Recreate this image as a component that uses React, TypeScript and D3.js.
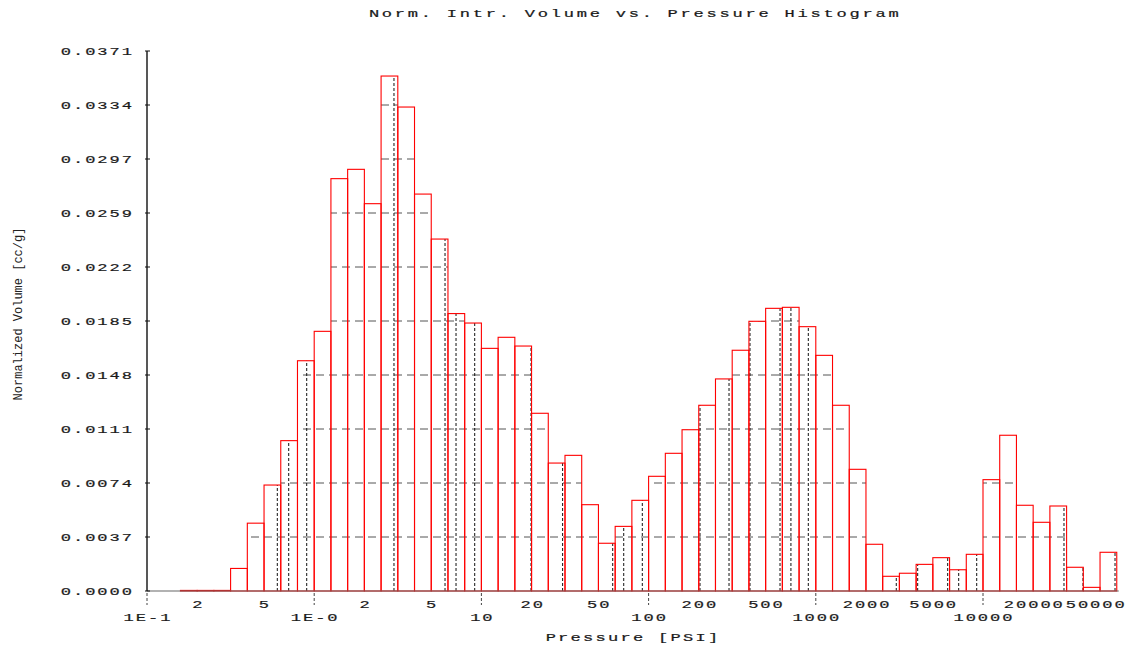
import React from 'react';
import * as d3 from 'd3';

// Histogram bins: lower edge pressure (PSI) of each 0.1-decade bin
const binLowPsi = [
  0.1585, 0.1995, 0.2512, 0.3162, 0.3981, 0.5012, 0.631, 0.7943, 1.0,
  1.259, 1.585, 1.995, 2.512, 3.162, 3.981, 5.012, 6.31, 7.943, 10.0,
  12.59, 15.85, 19.95, 25.12, 31.62, 39.81, 50.12, 63.1, 79.43, 100,
  125.9, 158.5, 199.5, 251.2, 316.2, 398.1, 501.2, 631.0, 794.3, 1000,
  1259, 1585, 1995, 2512, 3162, 3981, 5012, 6310, 7943, 10000,
  12589, 15849, 19953, 25119, 31623, 39811, 50119,
];
// Normalized intrusion volume per bin (cc/g)
const binVolume = [
  0.00004, 0.00004, 0.00004, 0.00155, 0.00466, 0.00728, 0.01033, 0.01582, 0.01784,
  0.02833, 0.02897, 0.02661, 0.03538, 0.03325, 0.02727, 0.02418, 0.01906, 0.01841, 0.01667,
  0.01743, 0.01683, 0.01221, 0.00879, 0.00932, 0.00593, 0.00328, 0.00444, 0.00623, 0.00788,
  0.00946, 0.01108, 0.01276, 0.01457, 0.01654, 0.01853, 0.01942, 0.01949, 0.01816, 0.01619,
  0.01276, 0.00836, 0.00321, 0.00101, 0.00122, 0.00183, 0.00229, 0.00146, 0.00252, 0.00765,
  0.0107, 0.00589, 0.00472, 0.00584, 0.00163, 0.00025, 0.00266,
];
// Pressures of the black dashed drop lines (PSI)
const dropLinePsi = [
  0.6016, 0.704, 0.902, 3.0, 6.06, 7.05, 9.12, 19.8, 30.6, 61.0, 71.0, 91.7,
  203, 302.7, 404, 611, 710, 902, 3029, 4068, 6150, 7155, 9170, 30510, 39630, 61600,
];

const yTickValues = [0, 0.00371, 0.00742, 0.01113, 0.01484, 0.01855, 0.02226, 0.02597, 0.02968, 0.03339, 0.0371];
const yTickLabels = ['0.0000', '0.0037', '0.0074', '0.0111', '0.0148', '0.0185', '0.0222', '0.0259', '0.0297', '0.0334', '0.0371'];
const xMajorTicks = [0.1, 1, 10, 100, 1000, 10000];
const xMajorLabels = ['1E-1', '1E-0', '10', '100', '1000', '10000'];
const xMinorTicks = [0.2, 0.5, 2, 5, 20, 50, 200, 500, 2000, 5000, 20000, 50000];
const xMinorLabels = ['2', '5', '2', '5', '20', '50', '200', '500', '2000', '5000', '20000', '50000'];

const BIN_STEP = Math.pow(10, 0.1);
const W = 1135;
const H = 651;
const FONT = '"Liberation Mono", "DejaVu Sans Mono", monospace';
const FS = 11;
const SX = 1.55;
const ADV = FS * 0.6;

type STProps = { x: number; y: number; pitch: number; anchor: 'start' | 'middle' | 'end'; children: string };

function textWidth(s: string, pitch: number) {
  const ls = pitch / SX - ADV;
  return s.length * pitch - ls * SX;
}

// Wide monospace text: horizontally stretched glyphs at a fixed character pitch
function StretchText({ x, y, pitch, anchor, children }: STProps) {
  const ls = pitch / SX - ADV;
  const w = textWidth(children, pitch);
  let x0 = x;
  if (anchor === 'middle') x0 = x - w / 2;
  if (anchor === 'end') x0 = x - w;
  return (
    <text
      transform={`translate(${x0},${y}) scale(${SX},1)`}
      dy="0.36em"
      textAnchor="start"
      fontFamily={FONT}
      fontSize={FS}
      letterSpacing={ls}
      fill="#1a1a1a"
      stroke="#1a1a1a"
      strokeWidth={0.2}
    >
      {children}
    </text>
  );
}

export default function App() {
  const x = d3.scaleLog().domain([0.1, 100000]).range([147, 1150.2]);
  const y = d3.scaleLinear().domain([0, 0.0371]).range([591, 51]);
  const xEnd = x(binLowPsi[binLowPsi.length - 1] * BIN_STEP);

  const bars = binLowPsi.map((lo, i) => ({ lo, hi: lo * BIN_STEP, v: binVolume[i] }));
  const drops = dropLinePsi.map((p) => {
    const b = bars.find((bb) => p >= bb.lo && p < bb.hi);
    return { p, v: b ? b.v : 0 };
  });

  const tickPitch = 12.2;

  return (
    <svg width={W} height={H} style={{ position: 'absolute', left: 0, top: 0, background: '#fff' }}>
      <defs>
        <clipPath id="barsClip">
          {bars.map((b, i) => (
            <rect key={i} x={x(b.lo)} y={y(b.v)} width={x(b.hi) - x(b.lo)} height={y(0) - y(b.v)} />
          ))}
        </clipPath>
      </defs>

      {/* title */}
      <StretchText x={634} y={13} pitch={13} anchor="middle">
        Norm. Intr. Volume vs. Pressure Histogram
      </StretchText>

      {/* horizontal grid clipped to bars */}
      <g clipPath="url(#barsClip)">
        {yTickValues.slice(1).map((v, i) => (
          <line key={i} x1={147} x2={xEnd} y1={y(v)} y2={y(v)} stroke="#555" strokeWidth={1} strokeDasharray="8,5" />
        ))}
      </g>

      {/* drop lines */}
      {drops.map((d, i) => (
        <line key={i} x1={x(d.p)} x2={x(d.p)} y1={y(0)} y2={y(d.v)} stroke="#111" strokeWidth={1} strokeDasharray="3,2" />
      ))}

      {/* bars */}
      {bars.map((b, i) => (
        <rect key={i} x={x(b.lo)} y={y(b.v)} width={x(b.hi) - x(b.lo)} height={y(0) - y(b.v)} fill="none" stroke="#ff0000" strokeWidth={1.1} />
      ))}

      {/* x axis */}
      <line x1={147} x2={xEnd + 2} y1={591} y2={591} stroke="#666" strokeWidth={1.2} />
      {xMajorTicks.map((t, i) => (
        <line key={i} x1={x(t)} x2={x(t)} y1={593} y2={605} stroke="#444" strokeWidth={1} strokeDasharray="3,2" />
      ))}
      {xMinorTicks.map((t, i) => {
        const lbl = xMinorLabels[i];
        const w = textWidth(lbl, tickPitch);
        let cx = x(t);
        if (cx + w / 2 > xEnd + 8) cx = xEnd + 8 - w / 2;
        return (
          <StretchText key={i} x={cx} y={604} pitch={tickPitch} anchor="middle">
            {lbl}
          </StretchText>
        );
      })}
      {xMajorTicks.map((t, i) => (
        <StretchText key={i} x={x(t)} y={617} pitch={tickPitch} anchor="middle">
          {xMajorLabels[i]}
        </StretchText>
      ))}
      <StretchText x={632} y={637} pitch={12.5} anchor="middle">
        Pressure [PSI]
      </StretchText>

      {/* y axis */}
      <line x1={147} x2={147} y1={51} y2={591} stroke="#111" strokeWidth={1.4} />
      {yTickValues.map((v, i) => (
        <g key={i}>
          <line x1={145} x2={150} y1={y(v)} y2={y(v)} stroke="#111" strokeWidth={1} />
          <StretchText x={132} y={y(v)} pitch={tickPitch} anchor="end">
            {yTickLabels[i]}
          </StretchText>
        </g>
      ))}
      <text transform="translate(18,314) rotate(-90)" dy="0.35em" textAnchor="middle" fontFamily={FONT} fontSize={12} fill="#222">
        Normalized Volume [cc/g]
      </text>
    </svg>
  );
}
